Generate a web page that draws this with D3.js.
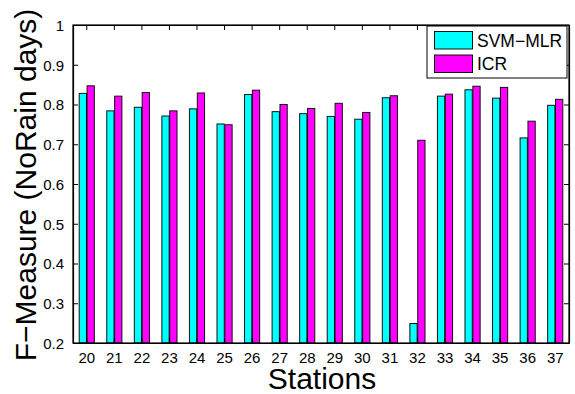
<!DOCTYPE html>
<html>
<head>
<meta charset="utf-8">
<script src="https://cdn.jsdelivr.net/npm/d3@7"></script>
<style>
  body { margin: 0; background: #fff; }
  text { font-family: "Liberation Sans", Arial, sans-serif; fill: #000; }
</style>
</head>
<body>
<script>
// stations and F-measure values
var stations = [20, 21, 22, 23, 24, 25, 26, 27, 28, 29, 30, 31, 32, 33, 34, 35, 36, 37];
var svmMlr = [0.828, 0.784, 0.793, 0.771, 0.789, 0.751, 0.825, 0.782, 0.777, 0.770, 0.763, 0.817, 0.249, 0.821, 0.837, 0.816, 0.716, 0.798];
var icr    = [0.847, 0.821, 0.830, 0.784, 0.829, 0.749, 0.836, 0.800, 0.790, 0.803, 0.780, 0.822, 0.710, 0.826, 0.846, 0.843, 0.758, 0.813];
var seriesNames = ["SVM\u2212MLR", "ICR"];
var yTicks = [0.2, 0.3, 0.4, 0.5, 0.6, 0.7, 0.8, 0.9, 1];

var colors = ["#00ffff", "#ff00ff"];
var plotLeft = 73, plotRight = 569, plotTop = 25, plotBottom = 343;

var svg = d3.select("body").append("svg")
    .attr("width", 575)
    .attr("height", 394);

//x scale: one band per station, bars take ~57% of the step
var x = d3.scaleBand()
    .domain(stations)
    .range([plotLeft, plotRight])
    .paddingInner(0.429)
    .paddingOuter(0.2145);

var xSub = d3.scaleBand()
    .domain([0, 1])
    .range([0, x.bandwidth()]);

var y = d3.scaleLinear()
    .domain([0.2, 1])
    .range([plotBottom, plotTop]);

//bars
var rows = stations.map(function(s, i) { return {station: s, vals: [svmMlr[i], icr[i]]}; });

var groups = svg.append("g").selectAll("g")
    .data(rows)
    .enter().append("g")
    .attr("transform", function(d) { return "translate(" + x(d.station) + ",0)"; });

groups.selectAll("rect")
    .data(function(d) { return d.vals; })
    .enter().append("rect")
    .attr("x", function(d, j) { return xSub(j) + 0.3; })
    .attr("width", xSub.bandwidth() - 0.6)
    .attr("y", function(d) { return y(d); })
    .attr("height", function(d) { return plotBottom - y(d); })
    .attr("fill", function(d, j) { return colors[j]; })
    .attr("stroke", "#111")
    .attr("stroke-width", 1);

//axes with inward ticks, box on
svg.append("g")
    .attr("transform", "translate(0," + plotBottom + ")")
    .call(d3.axisBottom(x).tickSize(-5).tickPadding(9).tickSizeOuter(0));
svg.append("g")
    .attr("transform", "translate(0," + plotTop + ")")
    .call(d3.axisTop(x).tickSize(-5).tickFormat("").tickSizeOuter(0));
var yAxis = svg.append("g")
    .attr("transform", "translate(" + plotLeft + ",0)")
    .call(d3.axisLeft(y).tickValues(yTicks).tickFormat(d3.format("~g")).tickSize(-5).tickPadding(9).tickSizeOuter(0));
svg.append("g")
    .attr("transform", "translate(" + plotRight + ",0)")
    .call(d3.axisRight(y).tickValues(yTicks).tickFormat("").tickSize(-5).tickSizeOuter(0));

svg.selectAll(".domain").attr("stroke", "#000").attr("stroke-width", 1.2);
svg.selectAll(".tick line").attr("stroke", "#000");
svg.selectAll(".tick text")
    .style("font-family", "'Liberation Sans', Arial, sans-serif")
    .style("font-size", "15px")
    .attr("fill", "#000");
yAxis.selectAll(".tick text").attr("dy", "0.36em");

//close the box
svg.append("rect")
    .attr("x", plotLeft).attr("y", plotTop)
    .attr("width", plotRight - plotLeft).attr("height", plotBottom - plotTop)
    .attr("fill", "none").attr("stroke", "#000").attr("stroke-width", 1.2);

//axis labels
svg.append("text")
    .attr("x", (plotLeft + plotRight) / 2 + 1)
    .attr("y", 389)
    .attr("text-anchor", "middle")
    .style("font-size", "30px")
    .text("Stations");

svg.append("text")
    .attr("transform", "translate(36,185) rotate(-90)")
    .attr("text-anchor", "middle")
    .style("font-size", "30px")
    .text("F\u2212Measure (NoRain days)");

//legend
var legend = svg.append("g").attr("transform", "translate(427,26)");
legend.append("rect")
    .attr("width", 140).attr("height", 52)
    .attr("fill", "#fff").attr("stroke", "#000").attr("stroke-width", 1);

var items = legend.selectAll(".item")
    .data(seriesNames)
    .enter().append("g")
    .attr("transform", function(d, i) { return "translate(0," + (i * 23.5) + ")"; });

items.append("rect")
    .attr("x", 7.5).attr("y", 5.5)
    .attr("width", 38).attr("height", 17.5)
    .attr("fill", function(d, i) { return colors[i]; })
    .attr("stroke", "#111");

items.append("text")
    .attr("x", 50)
    .attr("y", 20.5)
    .style("font-size", "17.5px")
    .text(function(d) { return d; });
</script>
</body>
</html>
